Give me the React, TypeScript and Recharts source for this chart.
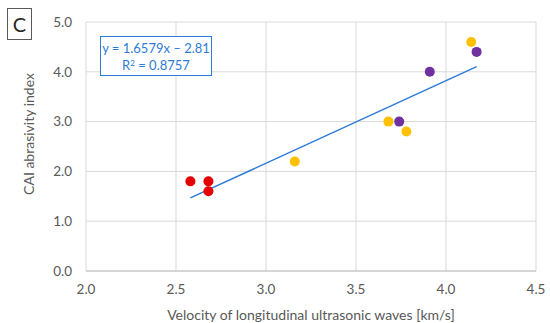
import {
  ScatterChart,
  Scatter,
  XAxis,
  YAxis,
  CartesianGrid,
} from "recharts";

const redPoints = [
  { v: 2.58, cai: 1.8 },
  { v: 2.68, cai: 1.8 },
  { v: 2.68, cai: 1.6 },
];

const yellowPoints = [
  { v: 3.16, cai: 2.2 },
  { v: 3.68, cai: 3.0 },
  { v: 3.78, cai: 2.8 },
  { v: 4.14, cai: 4.6 },
];

const purplePoints = [
  { v: 3.74, cai: 3.0 },
  { v: 3.91, cai: 4.0 },
  { v: 4.17, cai: 4.4 },
];

// linear trend y = 1.6579x - 2.81 over the data range
const trendX = [2.58, 4.17];
const trendLine = trendX.map((v) => ({ v, cai: 1.6579 * v - 2.81 }));

const xTicks = [2.0, 2.5, 3.0, 3.5, 4.0, 4.5];
const yTicks = [0, 1, 2, 3, 4, 5];

const FONT = "Lato, 'Open Sans', sans-serif";
const TEXT = "#595959";
const BLUE = "#2e7bd6";

const dot = (color: string) => (props: any) =>
  <circle cx={props.cx} cy={props.cy} r={5} fill={color} />;

// y-axis title, sits a bit above the plot's middle like Excel puts it
const YTitle = () => (
  <text
    x={28}
    y={134}
    transform="rotate(-90 28 134)"
    textAnchor="middle"
    dominantBaseline="central"
    fill={TEXT}
    fontSize={14}
    fontFamily={FONT}
  >
    CAI abrasivity index
  </text>
);

export default function App() {
  return (
    <div style={{ position: "absolute", left: 0, top: 0, width: 550, height: 323, background: "#fff", fontFamily: FONT }}>
      <ScatterChart
        width={550}
        height={323}
        margin={{ top: 22, right: 14, bottom: 0, left: 0 }}
      >
        <CartesianGrid stroke="#d9d9d9" strokeWidth={1} />
        <XAxis
          type="number"
          dataKey="v"
          domain={[2, 4.5]}
          ticks={xTicks}
          tickFormatter={(t: number) => t.toFixed(1)}
          tickLine={false}
          tickMargin={7}
          axisLine={{ stroke: "#bfbfbf" }}
          tick={{ fill: TEXT, fontSize: 13.5, fontFamily: FONT }}
          height={52}
          label={{
            value: "Velocity of longitudinal ultrasonic waves  [km/s]",
            position: "insideBottom",
            offset: 3,
            fill: TEXT,
            fontSize: 14,
            fontFamily: FONT,
          }}
        />
        <YAxis
          type="number"
          dataKey="cai"
          domain={[0, 5]}
          ticks={yTicks}
          tickFormatter={(t: number) => t.toFixed(1)}
          tickLine={false}
          tickMargin={8}
          axisLine={false}
          tick={{ fill: TEXT, fontSize: 13.5, fontFamily: FONT }}
          width={86}
          label={<YTitle />}
        />
        <Scatter
          data={trendLine}
          line={{ stroke: BLUE, strokeWidth: 1.5 }}
          shape={() => <g />}
          isAnimationActive={false}
        />
        <Scatter data={redPoints} shape={dot("#e60000")} isAnimationActive={false} />
        <Scatter data={yellowPoints} shape={dot("#ffc000")} isAnimationActive={false} />
        <Scatter data={purplePoints} shape={dot("#7030a0")} isAnimationActive={false} />
      </ScatterChart>
      <div
        style={{
          position: "absolute",
          left: 7,
          top: 8,
          width: 25,
          height: 32,
          border: "1px solid #595959",
          boxSizing: "border-box",
          fontSize: 20,
          lineHeight: "30px",
          textAlign: "center",
          color: "#262626",
        }}
      >
        C
      </div>
      <div
        style={{
          position: "absolute",
          left: 100,
          top: 36,
          width: 112,
          height: 40,
          border: `1.5px solid ${BLUE}`,
          background: "#fff",
          color: BLUE,
          fontSize: 13,
          lineHeight: "17px",
          textAlign: "center",
          paddingTop: 3,
          boxSizing: "border-box",
        }}
      >
        <div>y = 1.6579x – 2.81</div>
        <div>
          R<sup style={{ fontSize: 8, verticalAlign: "4px", lineHeight: 0 }}>2</sup> = 0.8757
        </div>
      </div>
    </div>
  );
}
